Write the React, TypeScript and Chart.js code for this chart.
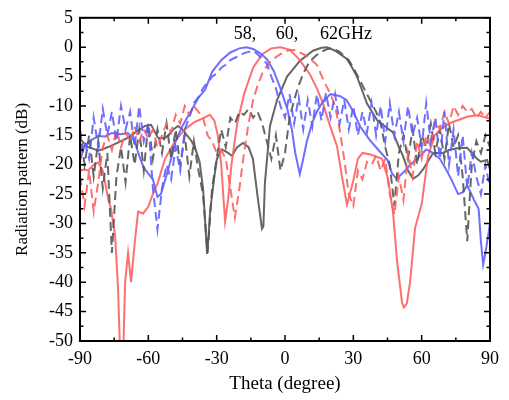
import React, { useEffect, useRef } from "react";
import { Chart, registerables } from "chart.js";

Chart.register(...registerables);

// ---------- data ----------
const xTicks = [-90, -60, -30, 0, 30, 60, 90];
const yTicks = [5, 0, -5, -10, -15, -20, -25, -30, -35, -40, -45, -50];
const freqLabels = ["58,", "60,", "62GHz"];
const freqLabelTheta = [-17.6, 0.9, 26.8];
const freqLabelDb = 2.2;

// 58 GHz simulated (blue solid)
const blueSolidTheta = [-90, -88, -85, -82, -79, -76, -72, -69, -66, -64, -62, -60, -58, -56, -54.5, -52, -50, -48, -45, -43, -41, -38, -35, -32, -28, -24, -20, -17, -14, -11, -8, -5, -2, 1, 3, 4.5, 6.5, 8, 9.6, 12, 14, 17, 20, 24, 27, 30, 33, 37, 41, 45, 47, 49, 52, 55, 58, 62, 65, 68, 71, 73, 76, 78, 80, 83, 85, 86, 87, 88, 90];
const blueSolidDb = [-19.3, -16.8, -15.8, -15.1, -15.2, -14.6, -14.8, -14.6, -16, -18.5, -20.5, -21.5, -22.5, -25.5, -25, -21.8, -19, -16, -13.4, -12, -10.7, -8.6, -7.2, -4.2, -2.2, -0.9, -0.2, 0, -0.3, -1, -2, -4, -7, -10.5, -14, -18, -21.6, -19, -16, -12.8, -11, -9, -8, -8.3, -9, -11, -13.5, -15.7, -17.5, -19.2, -21.5, -22.4, -21.3, -20, -19, -17.4, -18, -19, -21, -22.5, -25, -24.7, -23.5, -26, -27.5, -33, -37, -35, -30];

// 60 GHz simulated (red solid)
const redSolidTheta = [-90, -88, -86.5, -84, -82, -80, -79, -77.5, -76.4, -74.6, -73.3, -72.4, -71, -70.2, -68.9, -67.6, -65.9, -64.5, -62.3, -60.1, -57.5, -55.8, -52.7, -48.3, -44, -40, -36, -33, -31, -29.5, -28, -26.3, -25, -23.5, -21, -18, -14, -10, -6, -2, 2, 5.3, 8, 10.9, 14, 16.7, 19, 22.8, 25, 27.2, 29.8, 32, 34, 38, 42.6, 45.2, 47.4, 49.2, 51.4, 52.2, 53.5, 54.9, 57.1, 60.1, 62.8, 65.8, 68.9, 72, 74.6, 80.3, 85, 90];
const redSolidDb = [-21, -20.8, -21, -20, -19.6, -21, -23, -26, -27.5, -32, -41, -52, -52, -40, -35, -40, -33, -28, -28.3, -27.2, -24.5, -23, -19, -16, -14, -12.8, -12.1, -11.5, -12.5, -15, -20, -29.7, -26, -20, -13, -8, -3.5, -1.2, -0.2, 0, -0.4, -1.7, -3, -4.6, -7, -9.6, -12.5, -16.8, -22, -26.8, -23, -19, -18, -18.3, -19, -22.4, -28, -36.4, -43.5, -44.3, -43.6, -40, -30.8, -26.5, -18.5, -15, -13.8, -13, -12.6, -11.8, -11.6, -12.2];

// 62 GHz simulated (grey solid)
const greySolidTheta = [-90, -88, -86.5, -84, -82, -79, -76.4, -72, -68.9, -65, -61.5, -58.8, -57, -55.8, -53, -51.4, -49, -47, -45, -43.9, -41, -39.5, -37.5, -36, -35, -34.2, -33.5, -32.9, -31, -29.9, -27.7, -25, -23.3, -21, -18.4, -16, -14.1, -11.9, -10.1, -9.5, -8.8, -6.6, -3.5, 0.9, 6.6, 12.3, 16, 18.4, 22, 27.2, 29.5, 31.6, 34, 36, 40.4, 44, 47.4, 50, 51.8, 54, 56.2, 58.5, 60.6, 65, 69.3, 72, 75.5, 79.9, 82, 84.3, 86, 88.7, 90];
const greySolidDb = [-15.5, -16.5, -17, -17.3, -17.6, -17.2, -16.8, -16, -15.4, -14.3, -13.4, -13.2, -14.5, -15.4, -15.5, -15.1, -14, -13.4, -14, -14.6, -16, -17.1, -19.5, -24, -30, -35.2, -32, -28, -22, -19, -17.4, -18, -18.5, -17, -16.3, -17, -19, -25.8, -30.9, -30.5, -23, -13.4, -9, -5, -2.3, -0.6, -0.1, 0, -0.6, -2, -3.5, -5, -7.5, -9.6, -12.4, -13.5, -14.5, -17, -18.5, -21, -22.4, -21.8, -20.8, -18, -18, -17.5, -17.2, -17.1, -18, -19, -19.5, -19.2, -20.8];

// measured (dashed) series share one theta grid
const dashTheta = [-90, -88, -86, -84, -82, -80, -78, -76, -74, -72, -70, -68, -66, -64, -62, -60, -58, -56, -54, -52, -50, -48, -46, -44, -42, -40, -38, -36, -34, -32, -30, -28, -26, -24, -22, -20, -18, -16, -14, -12, -10, -8, -6, -4, -2, 0, 2, 4, 6, 8, 10, 12, 14, 16, 18, 20, 22, 24, 26, 28, 30, 32, 34, 36, 38, 40, 42, 44, 46, 48, 50, 52, 54, 56, 58, 60, 62, 64, 66, 68, 70, 72, 74, 76, 78, 80, 82, 84, 86, 88, 90];

const blueDashDb = [-18, -16, -19, -12, -17, -10.5, -15, -11, -16, -10, -14, -11, -17, -10, -16, -13, -24, -31, -24, -20, -22.5, -17, -21, -14, -12, -9.5, -8.5, -7, -6, -5, -4.5, -3.5, -3, -2.2, -1.8, -1.5, -1, -0.8, -0.6, -1.2, -2, -2.8, -5, -7, -10, -12, -8, -13, -8.5, -14, -9, -13.5, -8, -12.5, -7.8, -12, -8, -13, -9, -14, -10, -15, -11, -14.5, -9.5, -15, -10, -16, -9.5, -15, -11, -16, -10, -15, -12, -17, -9.5, -16, -12, -19, -11, -20, -14, -22, -15, -24, -18, -22, -25, -20, -24];

const redDashDb = [-22, -27, -21, -28, -23, -17, -15, -17.5, -14, -17, -14.5, -16, -13.5, -16, -14, -15.5, -14, -17, -15, -13, -14.5, -11.5, -13, -10, -11.5, -10, -11, -12, -15, -16, -18, -17.5, -19, -24, -29, -24, -18, -13, -9, -6.5, -4.5, -3.2, -2.3, -1.7, -1.2, -0.8, -0.5, -0.5, -0.8, -1.2, -1.6, -2.3, -3, -4.8, -6.5, -8, -10, -14, -19, -25, -27, -21, -22.5, -19.5, -20, -18.5, -21, -19, -25, -28.5, -22, -26, -18, -22, -16, -19, -15, -17, -12.5, -14, -11, -13, -10, -11.5, -10, -11, -10.5, -12, -11, -12, -11];

const greyDashDb = [-14, -20, -15, -22, -16, -24, -18, -35, -22, -17, -23, -15, -20, -14, -21, -13, -19, -14, -18, -13, -19, -14, -20, -15, -22, -16, -21, -25, -35, -24, -19, -14, -17, -12, -13, -11, -11.5, -10.5, -12, -11, -13, -16, -19, -15, -21, -18, -12, -9, -6.5, -4.5, -3, -2, -1.3, -0.8, -0.4, -0.2, -0.4, -0.8, -1.5, -2.2, -3.5, -5, -6.5, -8, -9.5, -11, -13, -17, -20, -27, -18, -15, -19, -14, -20, -15, -17, -13, -18, -14, -19, -13, -17, -15, -22, -33, -20, -16, -18, -15, -17];

// ---------- helpers ----------
const FONT = "'Liberation Serif', 'Times New Roman', serif";
const BLUE = "rgba(95,95,255,0.9)";
const RED = "rgba(255,95,95,0.9)";
const GREY = "rgba(85,85,85,0.9)";

const zip = (xs: number[], ys: number[]) => xs.map((x, i) => ({ x, y: ys[i] }));

const framePlugin = {
  id: "frame",
  afterDatasetsDraw(chart: any) {
    const { ctx, chartArea, scales } = chart;
    const { left, right, top, bottom } = chartArea;
    const xs = scales.x;
    const ys = scales.y;
    ctx.save();
    ctx.strokeStyle = "#000";
    ctx.lineWidth = 2;
    ctx.strokeRect(left, top, right - left, bottom - top);
    ctx.lineWidth = 1.5;
    ctx.beginPath();
    for (let v = -90; v <= 90; v += 15) {
      const px = xs.getPixelForValue(v);
      const len = v % 30 === 0 ? 6 : 3.5;
      ctx.moveTo(px, bottom);
      ctx.lineTo(px, bottom - len);
      ctx.moveTo(px, top);
      ctx.lineTo(px, top + len);
    }
    for (let v = -50; v <= 5; v += 2.5) {
      const py = ys.getPixelForValue(v);
      const len = v % 5 === 0 ? 6 : 3.5;
      ctx.moveTo(left, py);
      ctx.lineTo(left + len, py);
      ctx.moveTo(right, py);
      ctx.lineTo(right - len, py);
    }
    ctx.stroke();
    // frequency annotation
    ctx.fillStyle = "#000";
    ctx.font = `18px ${FONT}`;
    ctx.textAlign = "center";
    ctx.textBaseline = "middle";
    freqLabels.forEach((t, i) => {
      ctx.fillText(t, xs.getPixelForValue(freqLabelTheta[i]), ys.getPixelForValue(freqLabelDb));
    });
    ctx.restore();
  },
};

export default function App() {
  const ref = useRef<HTMLCanvasElement | null>(null);
  useEffect(() => {
    if (!ref.current) return;
    const solid = (label: string, t: number[], d: number[], c: string) => ({
      label,
      data: zip(t, d),
      borderColor: c,
      backgroundColor: c,
      borderWidth: 2,
      pointRadius: 0,
      showLine: true,
      tension: 0,
    });
    const dashed = (label: string, d: number[], c: string) => ({
      ...solid(label, dashTheta, d, c),
      borderDash: [9, 5],
    });
    const chart = new Chart(ref.current, {
      type: "scatter",
      data: {
        datasets: [
          dashed("58 GHz meas", blueDashDb, BLUE),
          dashed("60 GHz meas", redDashDb, RED),
          dashed("62 GHz meas", greyDashDb, GREY),
          solid("58 GHz sim", blueSolidTheta, blueSolidDb, BLUE),
          solid("60 GHz sim", redSolidTheta, redSolidDb, RED),
          solid("62 GHz sim", greySolidTheta, greySolidDb, GREY),
        ] as any,
      },
      options: {
        animation: false,
        responsive: false,
        layout: { padding: { top: 13, right: 19, left: 0, bottom: 0 } },
        plugins: { legend: { display: false }, tooltip: { enabled: false } },
        scales: {
          x: {
            type: "linear",
            min: -90,
            max: 90,
            afterBuildTicks: (s: any) => {
              s.ticks = xTicks.map((v) => ({ value: v }));
            },
            afterFit: (s: any) => {
              s.height = 59;
            },
            grid: { display: false, drawTicks: false },
            border: { display: false },
            ticks: { color: "#000", font: { family: FONT, size: 18 }, padding: 7, maxRotation: 0, autoSkip: false },
            title: {
              display: true,
              text: "Theta (degree)",
              color: "#000",
              font: { family: FONT, size: 19 },
              padding: { top: 0, bottom: 5 },
            },
          },
          y: {
            type: "linear",
            min: -50,
            max: 5,
            afterBuildTicks: (s: any) => {
              s.ticks = yTicks.map((v) => ({ value: v }));
            },
            afterFit: (s: any) => {
              s.width = 80;
            },
            grid: { display: false, drawTicks: false },
            border: { display: false },
            ticks: { color: "#000", font: { family: FONT, size: 18 }, padding: 7, autoSkip: false },
            title: {
              display: true,
              text: "Radiation pattern (dB)",
              color: "#000",
              font: { family: FONT, size: 17 },
              padding: { top: 12, bottom: 0 },
            },
          },
        },
      } as any,
      plugins: [framePlugin],
    });
    return () => chart.destroy();
  }, []);
  return (
    <div style={{ position: "absolute", left: 0, top: 0, width: 509, height: 400, background: "#fff" }}>
      <canvas ref={ref} width={509} height={400} style={{ display: "block" }} />
    </div>
  );
}
